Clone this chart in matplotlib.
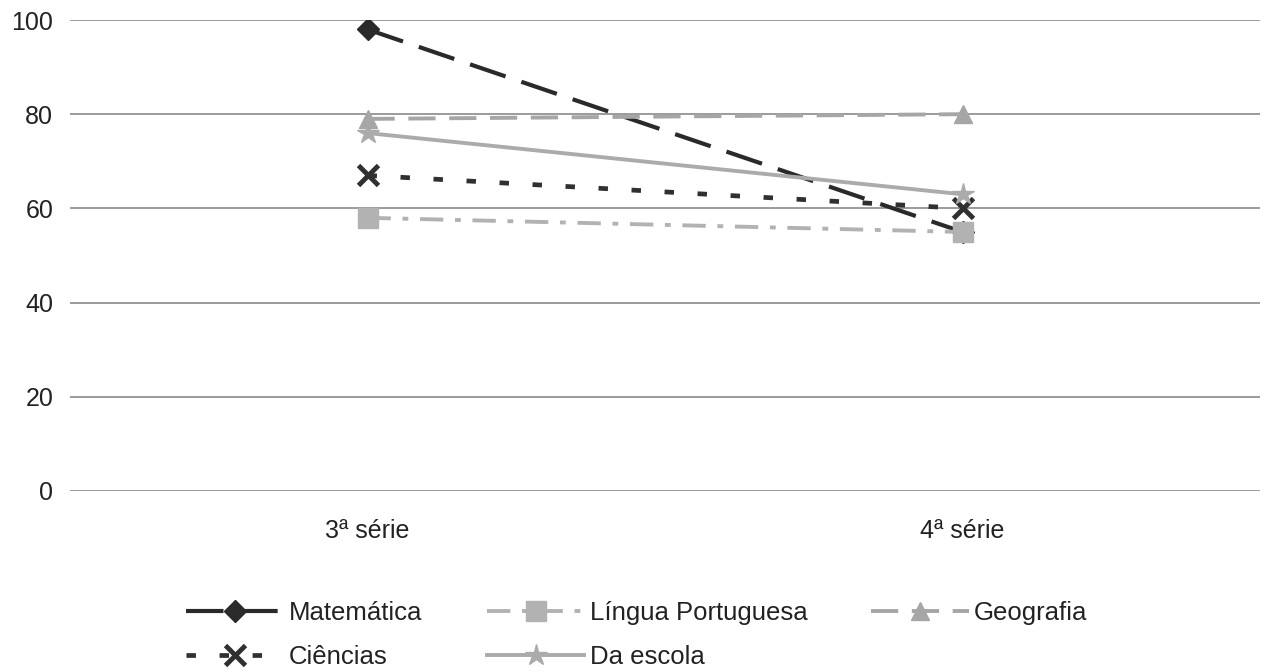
import matplotlib
matplotlib.use("Agg")
import matplotlib.pyplot as plt

plt.rcParams['font.family'] = ['Liberation Sans', 'DejaVu Sans']

categories = ["3ª série", "4ª série"]
matematica = [98, 55]
lingua_portuguesa = [58, 55]
geografia = [79, 80]
ciencias = [67, 60]
da_escola = [76, 63]
y_ticks = [0, 20, 40, 60, 80, 100]

W, H = 1265, 672
fig = plt.figure(figsize=(W / 100, H / 100), dpi=100)
ax = fig.add_axes([70 / W, 1 - 491 / H, 1190 / W, 471 / H])

x = [0, 1]
series = [
    ("Matemática", matematica,
     dict(color="#2a2a2a", lw=3.0, ls=(0, (9, 4)), marker="D", ms=11)),
    ("Ciências", ciencias,
     dict(color="#303030", lw=3.4, ls=(0, (2, 5)), marker="x", ms=14, mew=3.5)),
    ("Língua Portuguesa", lingua_portuguesa,
     dict(color="#b2b2b2", lw=2.8, ls=(0, (6, 3, 1.5, 3)), marker="s", ms=14)),
    ("Da escola", da_escola,
     dict(color="#ababab", lw=2.8, ls="-", marker="*", ms=16)),
    ("Geografia", geografia,
     dict(color="#a6a6a6", lw=2.8, ls=(0, (7, 3.5)), marker="^", ms=13)),
]

handles = []
for name, vals, style in series:
    h, = ax.plot(x, vals, label=name, zorder=3, **style)
    handles.append(h)

ax.set_xlim(-0.5, 1.5)
ax.set_ylim(0, 100)
ax.set_yticks(y_ticks)
ax.set_xticks(x)
ax.set_xticklabels(categories)
ax.grid(axis="y", color="#8a8a8a", lw=1.2)
ax.set_axisbelow(True)
for s in ax.spines.values():
    s.set_visible(False)
ax.tick_params(axis="y", length=0, pad=12, labelsize=18, labelcolor="#222222")
ax.tick_params(axis="x", length=0, pad=20, labelsize=18, labelcolor="#222222")

fig.legend(handles=handles, labels=[h.get_label() for h in handles],
           ncol=3, loc="center", bbox_to_anchor=(637 / W, 1 - 635 / H),
           frameon=False, fontsize=18.5, handlelength=3.8, columnspacing=2.5,
           labelspacing=0.8, handletextpad=0.2, borderpad=0,
           labelcolor="#222222")

fig.savefig("out.png", dpi=100, facecolor="white")
